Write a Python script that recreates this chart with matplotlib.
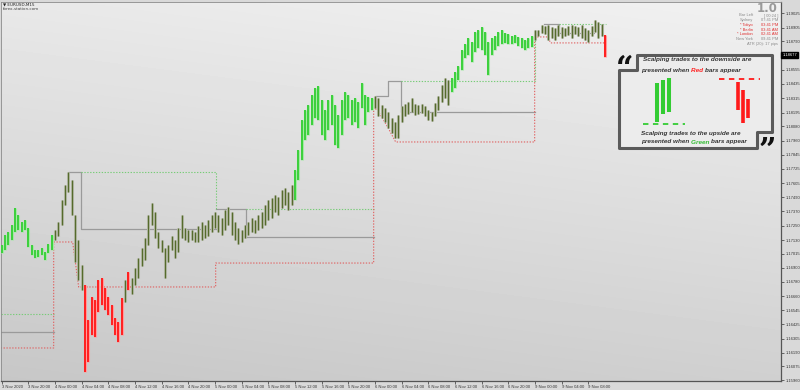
import numpy as np
import matplotlib
matplotlib.use("Agg")
import matplotlib.pyplot as plt
import matplotlib.transforms as mtransforms
from matplotlib import font_manager
from matplotlib.path import Path
from matplotlib.patches import PathPatch

# --- EURUSD 30-min bars (high / low), 3 Nov 16:00 -> 9 Nov 10:30 ---
highs = [1.17089, 1.17172, 1.17197, 1.17256, 1.17398, 1.17340, 1.17281, 1.17298, 1.17231, 1.17089,
         1.17047, 1.17047, 1.17064, 1.17030, 1.17097, 1.17172, 1.17214, 1.17281, 1.17465, 1.17590,
         1.17699, 1.17632, 1.17340, 1.17131, 1.16922, 1.16754, 1.16462, 1.16654, 1.16629, 1.16796,
         1.16813, 1.16729, 1.16654, 1.16587, 1.16479, 1.16445, 1.16646, 1.16796, 1.16863, 1.16813,
         1.16897, 1.16980, 1.17064, 1.17147, 1.17340, 1.17440, 1.17365, 1.17197, 1.17131, 1.17064,
         1.17089, 1.17164, 1.17131, 1.17231, 1.17340, 1.17231, 1.17214, 1.17214, 1.17197, 1.17248,
         1.17281, 1.17256, 1.17298, 1.17340, 1.17365, 1.17340, 1.17314, 1.17381, 1.17406, 1.17365,
         1.17281, 1.17231, 1.17214, 1.17256, 1.17281, 1.17314, 1.17298, 1.17340, 1.17365, 1.17423,
         1.17465, 1.17482, 1.17507, 1.17490, 1.17549, 1.17565, 1.17532, 1.17590, 1.17716, 1.17883,
         1.18134, 1.18217, 1.18259, 1.18343, 1.18401, 1.18418, 1.18301, 1.18217, 1.18301, 1.18343,
         1.18259, 1.18176, 1.18301, 1.18368, 1.18343, 1.18301, 1.18318, 1.18284, 1.18443, 1.18343,
         1.18326, 1.18318, 1.18334, 1.18318, 1.18259, 1.18234, 1.18201, 1.18150, 1.18117, 1.18176,
         1.18251, 1.18268, 1.18284, 1.18318, 1.18268, 1.18259, 1.18268, 1.18251, 1.18217, 1.18201,
         1.18276, 1.18334, 1.18426, 1.18485, 1.18468, 1.18485, 1.18535, 1.18585, 1.18719, 1.18769,
         1.18819, 1.18786, 1.18870, 1.18886, 1.18911, 1.18870, 1.18786, 1.18819, 1.18836, 1.18870,
         1.18886, 1.18861, 1.18853, 1.18836, 1.18844, 1.18828, 1.18819, 1.18803, 1.18819, 1.18836,
         1.18886, 1.18886, 1.18928, 1.18920, 1.18928, 1.18911, 1.18903, 1.18928, 1.18911, 1.18903,
         1.18920, 1.18928, 1.18920, 1.18911, 1.18928, 1.18903, 1.18886, 1.18920, 1.18970, 1.18953,
         1.18936, 1.18844]
lows = [1.17022, 1.17047, 1.17089, 1.17131, 1.17197, 1.17214, 1.17197, 1.17214, 1.17072, 1.17005,
        1.16980, 1.16989, 1.17005, 1.16963, 1.17022, 1.17047, 1.17131, 1.17164, 1.17256, 1.17423,
        1.17532, 1.17340, 1.16947, 1.16796, 1.16713, 1.16027, 1.16111, 1.16336, 1.16320, 1.16529,
        1.16587, 1.16545, 1.16504, 1.16420, 1.16336, 1.16278, 1.16336, 1.16612, 1.16713, 1.16679,
        1.16754, 1.16813, 1.16913, 1.16963, 1.17089, 1.17256, 1.17147, 1.17064, 1.17030, 1.16813,
        1.16947, 1.17047, 1.16980, 1.17030, 1.17147, 1.17131, 1.17114, 1.17131, 1.17114, 1.17114,
        1.17131, 1.17147, 1.17164, 1.17197, 1.17231, 1.17197, 1.17172, 1.17214, 1.17256, 1.17172,
        1.17131, 1.17097, 1.17114, 1.17147, 1.17172, 1.17197, 1.17189, 1.17214, 1.17231, 1.17256,
        1.17298, 1.17314, 1.17365, 1.17340, 1.17398, 1.17423, 1.17381, 1.17423, 1.17465, 1.17632,
        1.17799, 1.17967, 1.18008, 1.18092, 1.18150, 1.18134, 1.18008, 1.17967, 1.18050, 1.18092,
        1.17925, 1.17900, 1.18008, 1.18134, 1.18150, 1.18092, 1.18117, 1.18067, 1.18234, 1.18092,
        1.18201, 1.18217, 1.18234, 1.18167, 1.18150, 1.18117, 1.18067, 1.18025, 1.17983, 1.17983,
        1.18117, 1.18167, 1.18184, 1.18201, 1.18176, 1.18184, 1.18192, 1.18167, 1.18134, 1.18125,
        1.18167, 1.18217, 1.18284, 1.18318, 1.18259, 1.18368, 1.18401, 1.18468, 1.18552, 1.18652,
        1.18677, 1.18619, 1.18702, 1.18736, 1.18719, 1.18677, 1.18510, 1.18677, 1.18719, 1.18752,
        1.18769, 1.18778, 1.18769, 1.18769, 1.18778, 1.18752, 1.18736, 1.18719, 1.18736, 1.18744,
        1.18803, 1.18836, 1.18861, 1.18853, 1.18803, 1.18819, 1.18803, 1.18836, 1.18819, 1.18836,
        1.18844, 1.18819, 1.18853, 1.18836, 1.18819, 1.18803, 1.18786, 1.18836, 1.18870, 1.18819,
        1.18836, 1.18661]
# g = scalping up (green), r = scalping down (red), n = no signal
color_runs = [("g", 16), ("n", 9), ("r", 12), ("n", 1), ("r", 1), ("n", 49), ("g", 24),
              ("n", 23), ("g", 25), ("n", 21), ("r", 1)]

# session box lines (bar index, price)
upper_x = [-0.3, 15.6, np.nan, 23.7, 64.2, 64.2, np.nan, 73.2, 111.6, np.nan, 119.7, 159.9, 159.9, np.nan, 167.1, 181.2]
upper_y = [1.16512, 1.16512, np.nan, 1.17699, 1.17699, 1.17390, np.nan, 1.17390, 1.17390, np.nan,
           1.18460, 1.18460, 1.18870, np.nan, 1.18936, 1.18936]
lower_x = [-0.3, 15.6, 15.6, 21.3, 23.1, 64.2, 64.2, 111.6, 111.6, 112.8, 115.8, 118.2, 159.9, 159.9, 163.8, 164.7, 181.2]
lower_y = [1.16228, 1.16228, 1.17114, 1.17114, 1.16738, 1.16738, 1.16938, 1.16938, 1.18234, 1.18217,
           1.18075, 1.17950, 1.17950, 1.18828, 1.18828, 1.18778, 1.18778]
mid_x = [-0.3, 15.6, np.nan, 20.1, 23.7, 23.7, 64.2, np.nan, 64.2, 73.2, 73.2, 111.6, np.nan,
         112.2, 115.8, 115.8, 119.7, 119.7, 159.9, np.nan, 162.6, 167.1, 167.1, 177.6]
mid_y = [1.16361, 1.16361, np.nan, 1.17699, 1.17699, 1.17223, 1.17223, np.nan, 1.17390, 1.17390,
         1.17156, 1.17156, np.nan, 1.18334, 1.18334, 1.18460, 1.18460, 1.18201, 1.18201, np.nan,
         1.18936, 1.18936, 1.18861, 1.18861]

y_ticks = [1.15960, 1.16075, 1.16190, 1.16305, 1.16425, 1.16545, 1.16660, 1.16780, 1.16900, 1.17015,
           1.17130, 1.17250, 1.17370, 1.17490, 1.17605, 1.17725, 1.17845, 1.17960, 1.18080, 1.18195,
           1.18315, 1.18435, 1.18555, 1.18790, 1.18905, 1.19025]
x_labels = ["3 Nov 2020", "3 Nov 20:00", "4 Nov 00:00", "4 Nov 04:00", "4 Nov 08:00", "4 Nov 12:00",
            "4 Nov 16:00", "4 Nov 20:00", "5 Nov 00:00", "5 Nov 04:00", "5 Nov 08:00", "5 Nov 12:00",
            "5 Nov 16:00", "5 Nov 20:00", "6 Nov 00:00", "6 Nov 04:00", "6 Nov 08:00", "6 Nov 12:00",
            "6 Nov 16:00", "6 Nov 20:00", "9 Nov 00:00", "9 Nov 04:00", "9 Nov 08:00"]
last_price = 1.18677

info_labels = ["Bar Left", "Sydney", "* Tokyo", "* Berlin", "* London", "New York"]
info_values = ["[ 00:24 ]", "07:41 PM", "03:41 PM", "03:41 AM", "02:41 AM", "09:41 PM"]
info_red = [False, False, True, True, True, False]

# little legend drawing inside the callout (figure pixels)
demo_green_x = [657, 663, 669]
demo_green_top = [83, 80, 78]
demo_green_bot = [122, 114, 112]
demo_red_x = [738, 743, 748]
demo_red_top = [82, 90, 99]
demo_red_bot = [110, 123, 118]

names = {f.name for f in font_manager.fontManager.ttflist}
narrow = "Liberation Sans Narrow" if "Liberation Sans Narrow" in names else "Liberation Sans"

fig = plt.figure(figsize=(8, 3.9), dpi=100, facecolor="#d9d9d9")
ax = fig.add_axes([1 / 800, 9 / 390, 780 / 800, 379 / 390])

# background gradient
u = np.linspace(0, 1, 200)
v = np.linspace(0, 1, 100)
U, V = np.meshgrid(u, v)
grad = 0.945 - 0.13 * (1 - V) - 0.035 * (1 - U)
ax.imshow(grad, cmap="gray", vmin=0, vmax=1, extent=[0, 1, 0, 1], transform=ax.transAxes,
          aspect="auto", origin="lower", zorder=0, interpolation="bilinear")

x = np.arange(len(highs))
codes = np.array([c for c, n in color_runs for _ in range(n)])
hi = np.array(highs)
lo = np.array(lows)

ax.plot(mid_x, mid_y, color="#9a9a9a", lw=0.9, zorder=2)
ax.plot(upper_x, upper_y, color="#78cc78", lw=0.8, ls=(0, (1.2, 1.4)), zorder=2)
ax.plot(lower_x, lower_y, color="#e06060", lw=0.8, ls=(0, (1.2, 1.4)), zorder=2)

styles = {"g": ("#a6e8a6", "#3cd03c"), "r": ("#ff9c9c", "#ff1f1f"), "n": ("#c2c4b8", "#556b2c")}
for c, (halo, core) in styles.items():
    m = codes == c
    core_w = 1.0 if c == "n" else 1.4
    ax.vlines(x[m], lo[m], hi[m], colors=halo, lw=2.2, zorder=3)
    ax.vlines(x[m], lo[m], hi[m], colors=core, lw=core_w, zorder=4)

ax.set_xlim(-0.2, 233.8)
ax.set_ylim(1.15952, 1.19120)
ax.yaxis.tick_right()
ax.set_yticks(y_ticks)
ax.set_yticklabels([f"{t:.5f}" for t in y_ticks], family=narrow)
ax.set_xticks(np.arange(len(x_labels)) * 8)
ax.set_xticklabels(x_labels, family=narrow)
for lab in ax.get_xticklabels():
    lab.set_horizontalalignment("left")
ax.tick_params(axis="y", labelsize=3.0, length=2, width=0.5, pad=1.2, colors="#333333")
ax.tick_params(axis="x", labelsize=3.0, length=2, width=0.5, pad=1.0, colors="#333333")
for side in ["left", "top"]:
    ax.spines[side].set_color("#8a8a8a")
    ax.spines[side].set_linewidth(0.6)
for side in ["right", "bottom"]:
    ax.spines[side].set_color("#555555")
    ax.spines[side].set_linewidth(0.9)

trans = mtransforms.blended_transform_factory(ax.transAxes, ax.transData)
ax.text(1.002, last_price, f"{last_price:.5f}", transform=trans, color="white", fontsize=3.0,
        family=narrow, va="center", ha="left", zorder=10, clip_on=False,
        bbox=dict(boxstyle="square,pad=0.3", fc="black", ec="black"))

# overlay in figure pixels for the annotations
ov = fig.add_axes([0, 0, 1, 1], facecolor="none")
ov.set_xlim(0, 800)
ov.set_ylim(390, 0)
ov.axis("off")

ov.text(3, 4.5, "\u25bc EURUSD,M15", fontsize=3.0, color="#222222", va="center", ha="left")
ov.text(3, 9.5, "forex-station.com", fontsize=3.0, color="#444444", va="center", ha="left")

ov.text(778, 8, "1.0", fontsize=8.5, fontweight="bold", color="#9a9a9a", ha="right", va="center")
for i, (lab, val, red) in enumerate(zip(info_labels, info_values, info_red)):
    col = "#e03030" if red else "#8c8c8c"
    yy = 15.5 + i * 4.7
    ov.text(753, yy, lab, fontsize=2.9, family=narrow, color=col, ha="right", va="center")
    ov.text(778, yy, val, fontsize=2.9, family=narrow, color=col, ha="right", va="center")
ov.text(778, 43.7, "ATR (20): 17 pips", fontsize=2.9, family=narrow, color="#8c8c8c", ha="right", va="center")

# callout frame
verts = [(637, 55), (772, 55), (772, 132), (757, 132), (757, 148), (619, 148), (619, 70), (637, 70), (637, 55)]
codes_p = [Path.MOVETO] + [Path.LINETO] * (len(verts) - 2) + [Path.CLOSEPOLY]
ov.add_patch(PathPatch(Path(verts, codes_p), fc="#ececec", ec="#5a5a5a", lw=2.2, joinstyle="round", zorder=5))
ov.text(625, 79, "\u201c", fontsize=22, fontweight="bold", family="DejaVu Serif", color="#111111",
        ha="center", va="baseline", zorder=6)
ov.text(767, 160, "\u201d", fontsize=22, fontweight="bold", family="DejaVu Serif", color="#111111",
        ha="center", va="baseline", zorder=6)

ov.vlines(demo_green_x, demo_green_top, demo_green_bot, colors="#33cc33", lw=2.9, zorder=6)
ov.vlines(demo_red_x, demo_red_top, demo_red_bot, colors="#ff1a1a", lw=2.6, zorder=6)
ov.plot([643, 685], [124, 124], color="#33cc33", lw=1.3, ls=(0, (3, 2.5)), zorder=6)
ov.plot([719, 760], [79, 79], color="#ff1a1a", lw=1.3, ls=(0, (3, 2.5)), zorder=6)

renderer = fig.canvas.get_renderer()
probe = ov.text(0, 0, "Scalping trades to the downside are", fontsize=6, family=narrow,
                style="italic", weight="bold")
w = probe.get_window_extent(renderer).width
probe.remove()
fs = 6 * 110 / w


def rich_line(x0, y0, parts):
    cur = x0
    for txt, col in parts:
        t = ov.text(cur, y0, txt, fontsize=fs, family=narrow, style="italic", weight="bold",
                    color=col, ha="left", va="center", zorder=6)
        cur += t.get_window_extent(renderer).width


dark = "#333333"
rich_line(643, 60, [("Scalping trades to the downside are", dark)])
rich_line(641, 70.5, [("presented when ", dark), ("Red ", "#ff2020"), ("bars appear", dark)])
rich_line(641, 133, [("Scalping trades to the upside are", dark)])
rich_line(641, 142, [("presented when ", dark), ("Green ", "#33bb33"), ("bars appear", dark)])

fig.savefig("out.png", dpi=100, facecolor=fig.get_facecolor())
